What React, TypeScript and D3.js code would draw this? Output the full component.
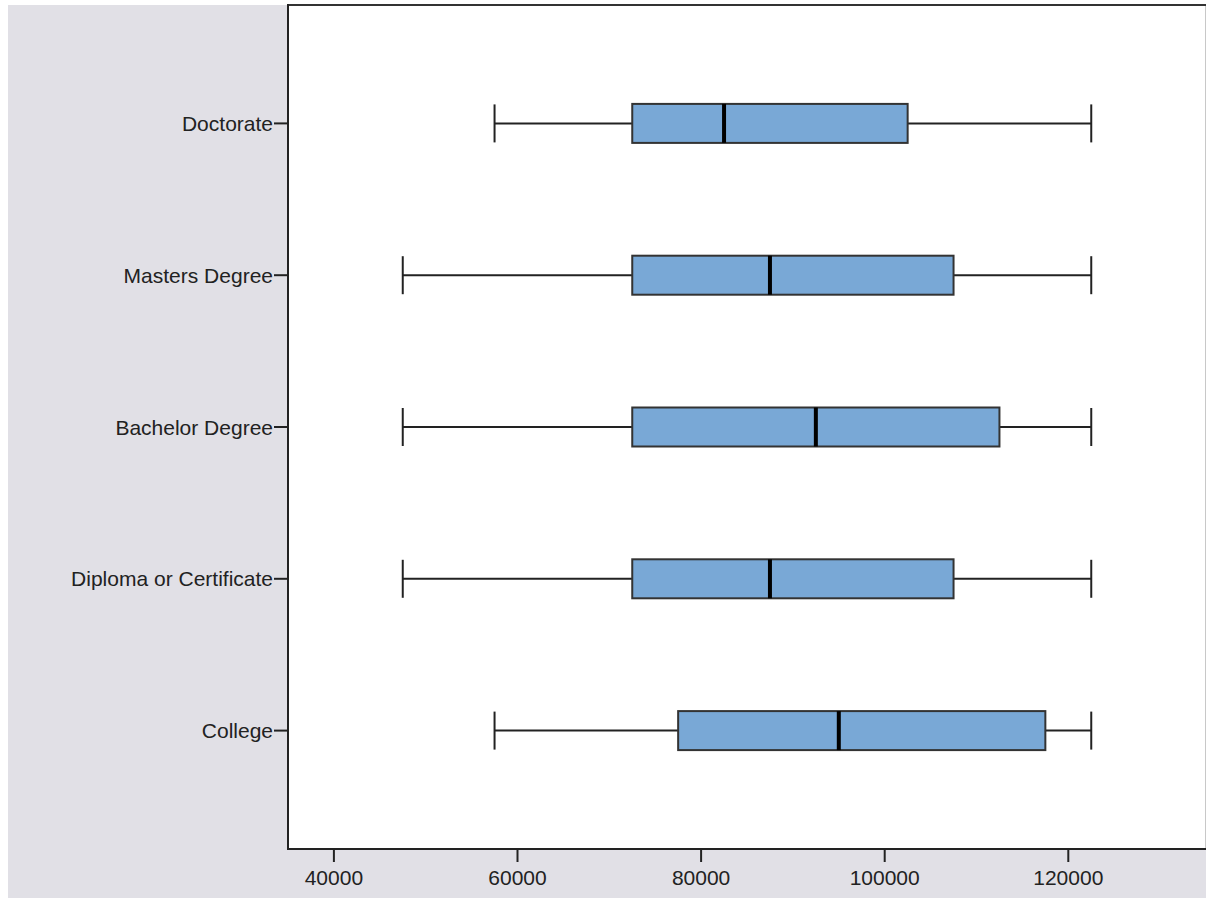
import React from "react";
import * as d3 from "d3";

const categories = ["Doctorate", "Masters Degree", "Bachelor Degree", "Diploma or Certificate", "College"];
const whiskerLow = [57500, 47500, 47500, 47500, 57500];
const q1 = [72500, 72500, 72500, 72500, 77500];
const median = [82500, 87500, 92500, 87500, 95000];
const q3 = [102500, 107500, 112500, 107500, 117500];
const whiskerHigh = [122500, 122500, 122500, 122500, 122500];
const xTicks = [40000, 60000, 80000, 100000, 120000];

const W = 1206;
const H = 898;
const left = 288;
const right = 1206;
const top = 5;
const bottom = 849;
const FONT = "'Liberation Sans', Arial, sans-serif";

export default function App() {
  const x = d3.scaleLinear().domain([35000, 135000]).range([left, right]);
  const y = d3.scalePoint<string>().domain(categories).range([top, bottom]).padding(0.78);
  const boxH = 39;
  const capH = 38;

  return (
    <svg width={W} height={H} style={{ position: "absolute", left: 0, top: 0 }} fontFamily={FONT}>
      <rect x={0} y={0} width={W} height={H} fill="#ffffff" />
      <rect x={8} y={5} width={W - 8} height={H - 5} fill="#e1e0e6" />
      <rect x={left} y={top} width={right - left} height={bottom - top} fill="#ffffff" />
      {/* frame */}
      <line x1={right - 0.5} x2={right - 0.5} y1={top} y2={bottom} stroke="#c8c8c8" strokeWidth={1} />
      <line x1={left} x2={right} y1={top} y2={top} stroke="#333" strokeWidth={2} />
      <line x1={left} x2={left} y1={top - 1} y2={bottom + 1} stroke="#222" strokeWidth={2} />
      <line x1={left - 1} x2={right} y1={bottom} y2={bottom} stroke="#222" strokeWidth={2} />

      {/* x ticks */}
      {xTicks.map((t) => (
        <g key={t}>
          <line x1={x(t)} x2={x(t)} y1={bottom} y2={bottom + 13} stroke="#222" strokeWidth={2} />
          <text x={x(t)} y={bottom + 28} textAnchor="middle" dominantBaseline="central" fontSize={21} fill="#222">
            {t}
          </text>
        </g>
      ))}

      {/* y ticks */}
      {categories.map((c) => (
        <g key={c}>
          <line x1={left - 14} x2={left} y1={y(c)!} y2={y(c)!} stroke="#222" strokeWidth={2} />
          <text x={left - 15} y={y(c)!} textAnchor="end" dominantBaseline="central" fontSize={21} fill="#222">
            {c}
          </text>
        </g>
      ))}

      {/* boxes */}
      {categories.map((c, i) => {
        const cy = y(c)!;
        return (
          <g key={c}>
            <line x1={x(whiskerLow[i])} x2={x(q1[i])} y1={cy} y2={cy} stroke="#222" strokeWidth={2} />
            <line x1={x(q3[i])} x2={x(whiskerHigh[i])} y1={cy} y2={cy} stroke="#222" strokeWidth={2} />
            <line x1={x(whiskerLow[i])} x2={x(whiskerLow[i])} y1={cy - capH / 2} y2={cy + capH / 2} stroke="#222" strokeWidth={2} />
            <line x1={x(whiskerHigh[i])} x2={x(whiskerHigh[i])} y1={cy - capH / 2} y2={cy + capH / 2} stroke="#222" strokeWidth={2} />
            <rect
              x={x(q1[i])}
              y={cy - boxH / 2}
              width={x(q3[i]) - x(q1[i])}
              height={boxH}
              fill="#79a8d6"
              stroke="#333"
              strokeWidth={2}
            />
            <line x1={x(median[i])} x2={x(median[i])} y1={cy - boxH / 2} y2={cy + boxH / 2} stroke="#000" strokeWidth={4} />
          </g>
        );
      })}
    </svg>
  );
}
